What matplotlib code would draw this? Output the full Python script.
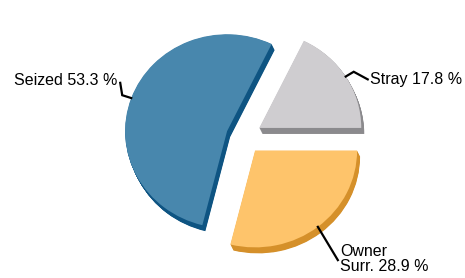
import matplotlib
matplotlib.use("Agg")
import matplotlib.pyplot as plt
import numpy as np

categories = ["Stray", "Seized", "Owner Surr."]
label_texts = ["Stray 17.8 %", "Seized 53.3 %", "Owner\nSurr. 28.9 %"]
values = [17.8, 53.3, 28.9]
top_colors = ["#cfcdd0", "#4887ad", "#fec46b"]
side_colors = ["#8b8a8d", "#0e5482", "#d5902a"]

plt.rcParams['font.family'] = ['Liberation Sans', 'DejaVu Sans']

W, H = 465, 278
SQ = 0.95  # vertical squash of the pie (perspective)
fig = plt.figure(figsize=(W / 100, H / 100), dpi=100)
ax = fig.add_axes([0, 0, 1, 1])

cx, cy = 244, 141 / SQ
R = 102
explode = [18, 18, 18]  # data units
depth_dx, depth_dy = 3.0, -6.0 / SQ
n = 12
for k in range(n, 0, -1):
    ax.pie(values, colors=side_colors, startangle=0, counterclock=True,
           explode=explode, radius=R,
           center=(cx + depth_dx * k / n, cy + depth_dy * k / n),
           wedgeprops=dict(linewidth=0), frame=True)
wedges, _ = ax.pie(values, colors=top_colors, startangle=0, counterclock=True,
                   explode=explode, radius=R, center=(cx, cy),
                   wedgeprops=dict(linewidth=0), frame=True)
ax.set_xlim(0, W)
ax.set_ylim(0, H / SQ)
ax.set_aspect(SQ)
ax.axis('off')

# leader lines and labels
for i, w in enumerate(wedges):
    mid = np.deg2rad((w.theta1 + w.theta2) / 2)
    px = w.center[0] + R * np.cos(mid)
    py = w.center[1] + R * np.sin(mid)
    if i == 0:
        xs = [px, px + 8, px + 22]
        ys = [py, py + 5, py - 3]
        ax.text(xs[-1] + 2, ys[-1], label_texts[i], ha='left', va='center', fontsize=11.5)
    elif i == 1:
        xs = [px, px - 9, px - 11]
        ys = [py, py + 3, py + 16]
        ax.text(xs[-1] - 3, ys[-1] + 2, label_texts[i], ha='right', va='center', fontsize=11.5)
    else:
        xs = [px, px + 20]
        ys = [py, py - 35]
        ax.text(xs[-1] + 2, ys[-1] + 1, label_texts[i], ha='left', va='center',
                fontsize=11.5, linespacing=0.95)
    ax.plot(xs, ys, color='black', lw=1.6, solid_joinstyle='miter')

fig.savefig("out.png", dpi=100)
